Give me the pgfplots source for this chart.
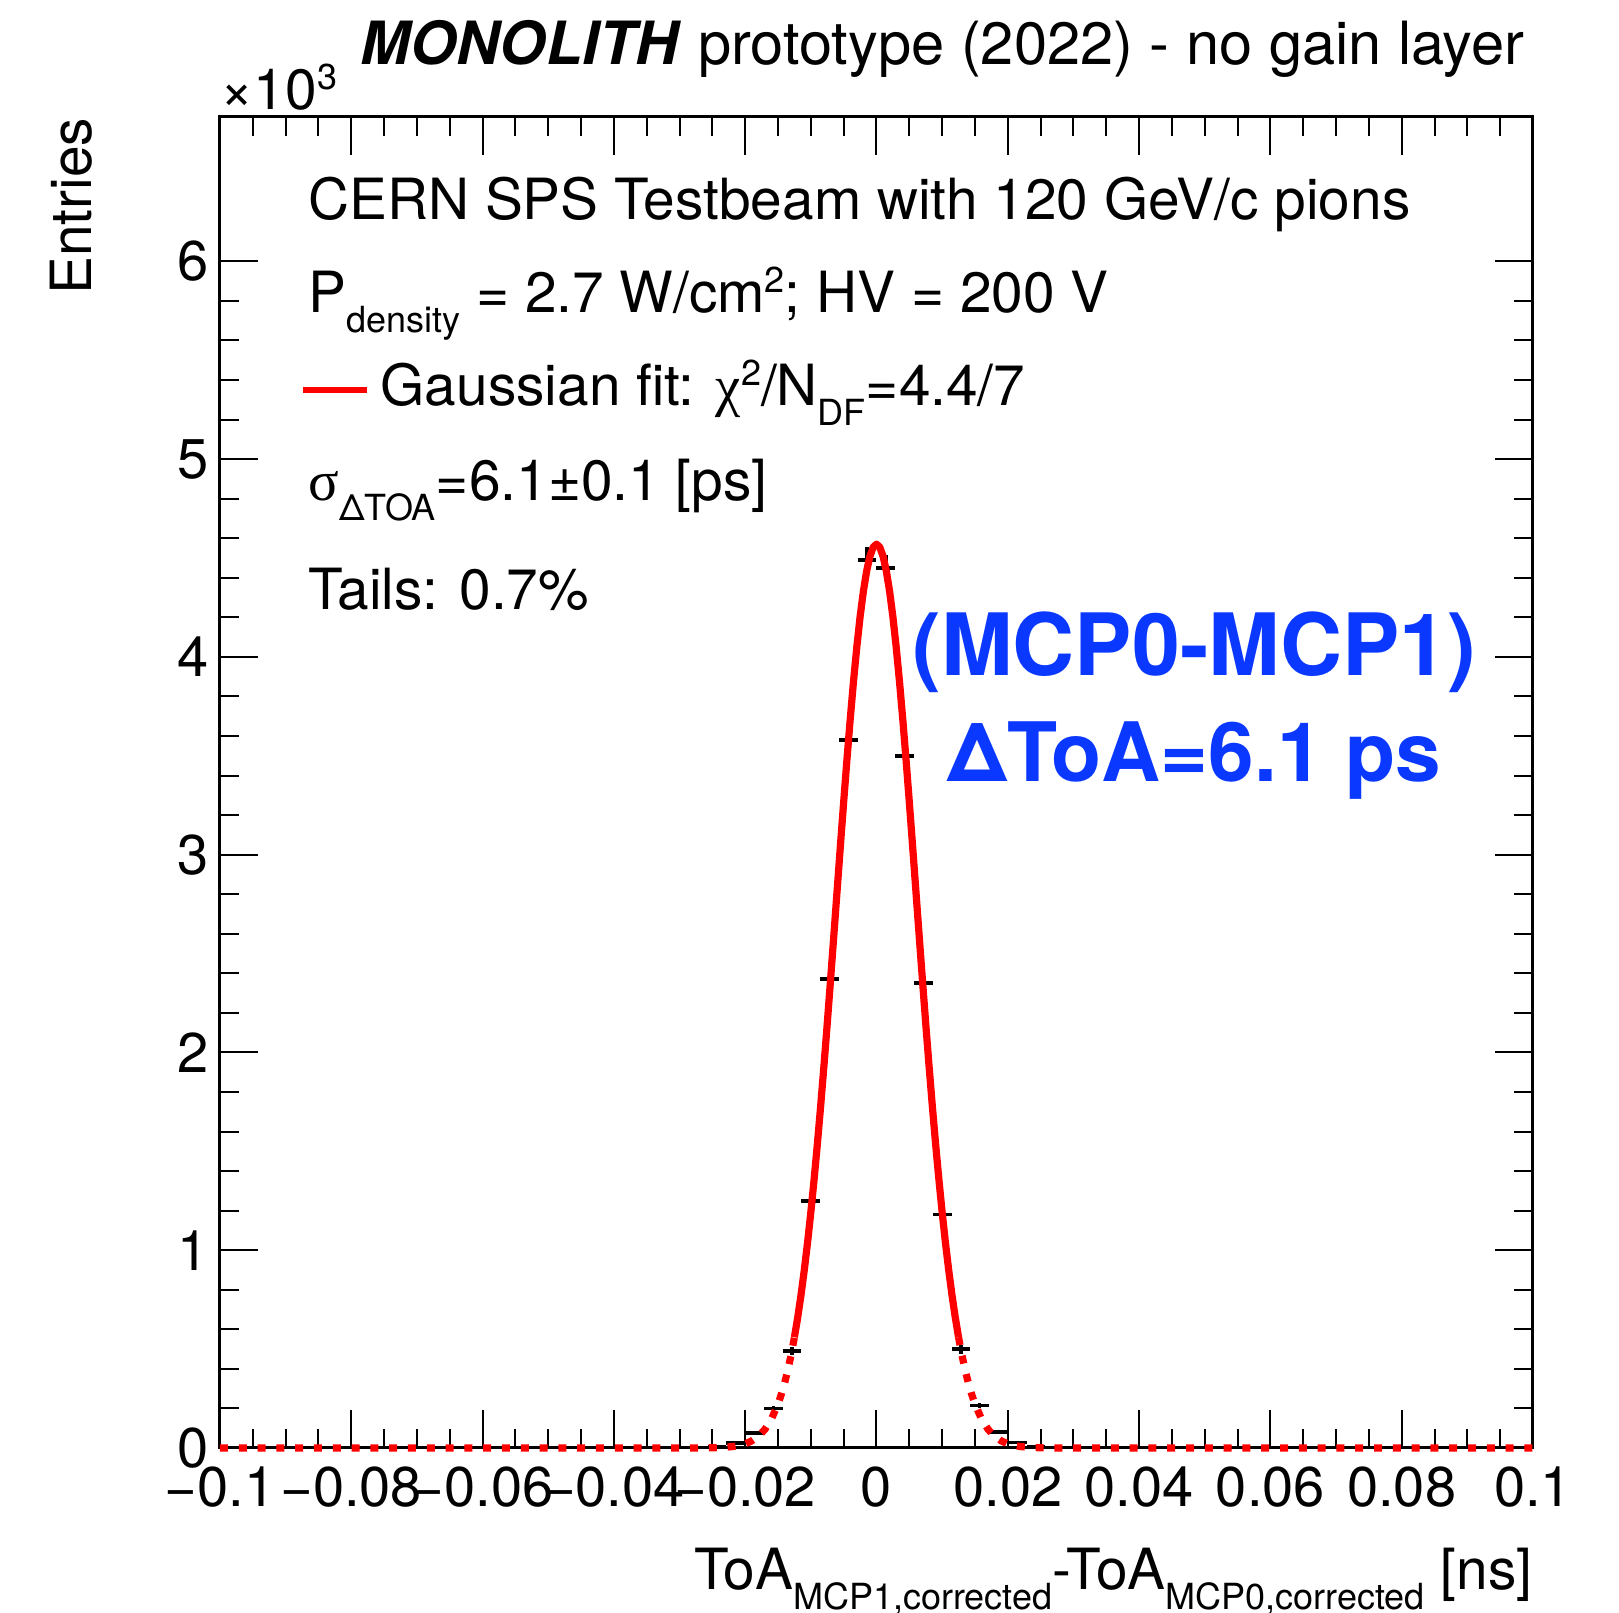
\documentclass[border=0pt]{standalone}
\usepackage{fontspec}
\setmainfont{TeX Gyre Heros}
\newfontfamily\symb{Liberation Serif}
\usepackage{pgfplots}
\usepackage{pgfplotstable}
\pgfplotsset{compat=1.18}
\definecolor{rootblue}{RGB}{10,56,255}
\newcommand{\sub}[2][-5pt]{\raisebox{#1}{\fontsize{9}{10}\selectfont #2}}
\newcommand{\sups}[2][5pt]{\raisebox{#1}{\fontsize{9}{10}\selectfont #2}}

\pgfplotstableread{
x y ex ey
-0.027143 0.003 0.0014286 0.0017
-0.024286 0.008 0.0014286 0.0028
-0.021429 0.025 0.0014286 0.0050
-0.018571 0.075 0.0014286 0.0087
-0.015714 0.200 0.0014286 0.0141
-0.012857 0.490 0.0014286 0.0221
-0.010000 1.250 0.0014286 0.0354
-0.007143 2.370 0.0014286 0.0487
-0.004286 3.580 0.0014286 0.0598
-0.001429 4.490 0.0014286 0.0670
0.001429 4.450 0.0014286 0.0667
0.004286 3.500 0.0014286 0.0592
0.007143 2.350 0.0014286 0.0485
0.010000 1.180 0.0014286 0.0344
0.012857 0.500 0.0014286 0.0224
0.015714 0.215 0.0014286 0.0147
0.018571 0.080 0.0014286 0.0089
0.021429 0.028 0.0014286 0.0053
0.024286 0.008 0.0014286 0.0028
0.027143 0.002 0.0014286 0.0014
}\histdata

\pgfplotstableread{
x y
-0.0125 0.5599
-0.0120 0.6601
-0.0115 0.7729
-0.0110 0.8991
-0.0105 1.0388
-0.0100 1.1922
-0.0095 1.3591
-0.0090 1.5389
-0.0085 1.7309
-0.0080 1.9338
-0.0075 2.1462
-0.0070 2.3658
-0.0065 2.5904
-0.0060 2.8173
-0.0055 3.0436
-0.0050 3.2660
-0.0045 3.4813
-0.0040 3.6859
-0.0035 3.8764
-0.0030 4.0494
-0.0025 4.2019
-0.0020 4.3309
-0.0015 4.4339
-0.0010 4.5090
-0.0005 4.5547
0.0000 4.5700
0.0005 4.5547
0.0010 4.5090
0.0015 4.4339
0.0020 4.3309
0.0025 4.2019
0.0030 4.0494
0.0035 3.8764
0.0040 3.6859
0.0045 3.4813
0.0050 3.2660
0.0055 3.0436
0.0060 2.8173
0.0065 2.5904
0.0070 2.3658
0.0075 2.1462
0.0080 1.9338
0.0085 1.7309
0.0090 1.5389
0.0095 1.3591
0.0100 1.1922
0.0105 1.0388
0.0110 0.8991
0.0115 0.7729
0.0120 0.6601
0.0125 0.5599
}\fitsolid

\pgfplotstableread{
x y
-0.1000 0.0
-0.0300 0.0
-0.0260 0.0005
-0.0240 0.0020
-0.0220 0.0068
-0.0210 0.0122
-0.0200 0.0212
-0.0190 0.0357
-0.0180 0.0588
-0.0170 0.0940
-0.0160 0.1465
-0.0150 0.2223
-0.0145 0.2710
-0.0140 0.3282
-0.0135 0.3948
-0.0130 0.4718
-0.0125 0.5599
}\fitleft

\pgfplotstableread{
x y
0.0125 0.5599
0.0130 0.4718
0.0135 0.3948
0.0140 0.3282
0.0145 0.2710
0.0150 0.2223
0.0160 0.1465
0.0170 0.0940
0.0180 0.0588
0.0190 0.0357
0.0200 0.0212
0.0210 0.0122
0.0220 0.0068
0.0240 0.0020
0.0260 0.0005
0.0300 0.0
0.1000 0.0
}\fitright

\begin{document}
\begin{tikzpicture}
\begin{axis}[
  at={(0,0)}, anchor=south west,
  scale only axis, width=328.25pt, height=332.75pt,
  xmin=-0.1, xmax=0.1, ymin=0, ymax=6.73,
  xtick={-0.1,-0.08,-0.06,-0.04,-0.02,0,0.02,0.04,0.06,0.08,0.1},
  xticklabels={−0.1,−0.08,−0.06,−0.04,−0.02,0,0.02,0.04,0.06,0.08,0.1},
  ytick={0,1,2,3,4,5,6},
  yticklabels={0,1,2,3,4,5,6},
  scaled ticks=false,
  minor x tick num=3, minor y tick num=4,
  tick align=inside,
  major tick length=9.5pt, minor tick length=4.7pt,
  every tick/.style={black, line width=0.5pt},
  axis line style={line width=0.75pt},
  tick label style={font=\fontsize{14}{16}\selectfont},
  xticklabel style={anchor=north, inner sep=0pt, yshift=-4.5pt},
  yticklabel style={anchor=east, inner sep=0pt, xshift=-2.6pt},
  clip=false,
]
\addplot[draw=none, mark=none,
  error bars/.cd, x dir=both, x explicit, y dir=both, y explicit,
  error mark=none, error bar style={draw=black, line width=0.9pt}]
  table[x=x, y=y, x error=ex, y error=ey] {\histdata};
\addplot[red, line width=1.8pt, line join=round] table[x=x,y=y] {\fitsolid};
\addplot[red, line width=1.8pt, dash pattern=on 2pt off 2.7pt] table[x=x,y=y] {\fitleft};
\addplot[red, line width=1.8pt, dash pattern=on 2pt off 2.7pt] table[x=x,y=y] {\fitright};
\end{axis}

\begin{scope}[every node/.style={inner sep=0pt, font=\fontsize{14.2}{16}\selectfont}]
\node[anchor=base east, font=\fontsize{14.9}{17}\selectfont] at (326.25pt,345.75pt)
  {\textbf{\textit{MONOLITH}} prototype (2022) - no gain layer};
\node[anchor=base west] at (0pt,334.5pt) {×10\sups{3}};
\node[anchor=base west] at (21.9pt,307pt) {CERN SPS Testbeam with 120 GeV/c pions};
\node[anchor=base west] at (21.9pt,283.8pt) {P\sub{density} = 2.7 W/cm\sups{2}; HV = 200 V};
\draw[red, line width=1.7pt] (20.75pt,264.5pt) -- (36.75pt,264.5pt);
\node[anchor=base west] at (40pt,260.5pt) {Gaussian fit: {\symb χ}\sups{2}/N\sub{DF}=4.4/7};
\node[anchor=base west] at (21.9pt,236.8pt) {{\symb σ}\sub{ΔTOA}=6.1±0.1 [ps]};
\node[anchor=base west] at (21.9pt,209.7pt) {Tails: 0.7\%};
\node[anchor=base, text=rootblue, font=\fontsize{21.5}{24}\selectfont\bfseries] at (243.6pt,193pt) {(MCP0-MCP1)};
\node[anchor=base, text=rootblue, font=\fontsize{20.5}{24}\selectfont\bfseries] at (243.6pt,166.6pt) {ΔToA=6.1 ps};
\node[anchor=base east] at (328.25pt,-35.5pt)
  {ToA\sub{MCP1,corrected}-ToA\sub{MCP0,corrected} [ns]};
\node[anchor=base east, rotate=90] at (-32pt,332.75pt) {Entries};
\end{scope}

\pgfresetboundingbox
\path[use as bounding box] (-55pt,-41.25pt) rectangle (349.75pt,362pt);
\end{tikzpicture}
\end{document}
